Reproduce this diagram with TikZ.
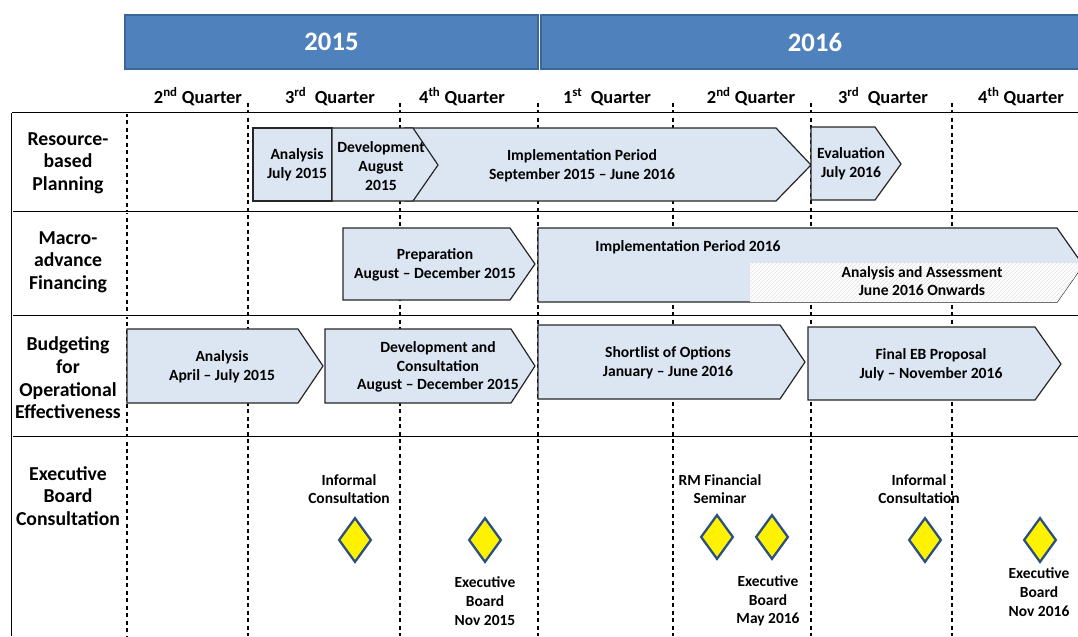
\documentclass[tikz,border=0pt]{standalone}
\usepackage{fontspec}
\setmainfont{Carlito}
\usetikzlibrary{shapes.geometric,patterns}
\definecolor{yearblue}{HTML}{4F81BD}
\definecolor{yearedge}{HTML}{3A679A}
\definecolor{shapefill}{HTML}{DCE6F2}
\definecolor{dmdedge}{HTML}{2B4F82}
\begin{document}
\begin{tikzpicture}[x=0.75pt,y=-0.75pt,
  yearbox/.style={draw=yearedge,line width=1.2pt,fill=yearblue,text=white,font=\fontsize{20}{24}\selectfont\bfseries},
  qlabel/.style={anchor=base,font=\fontsize{13.8}{16}\selectfont\bfseries},
  rowlabel/.style={align=center,font=\fontsize{14.8}{17}\selectfont\bfseries},
  chev/.style={draw=black!85,line width=0.9pt,fill=shapefill,line join=miter},
  stext/.style={align=center,font=\fontsize{11.7}{14}\selectfont\bfseries},
  dtext/.style={align=center,font=\fontsize{11.6}{14}\selectfont\bfseries},
  milestone/.style={diamond,draw=dmdedge,line width=1.7pt,fill=yellow,minimum width=24.5pt,minimum height=33.5pt,inner sep=0pt},
  grid/.style={draw=black,double=white,double distance=0.5pt,line width=0.65pt},
  qline/.style={draw=black,line width=0.8pt,dash pattern=on 3pt off 2.6pt}]
\useasboundingbox (0,0) rectangle (1078,636);
\clip (0,0) rectangle (1078,636);
% year bars
\node[yearbox,minimum width=309.75pt,minimum height=40.5pt] (y2015) at (331.5,42) {2015};
\node[yearbox,minimum width=411pt,minimum height=40.5pt] (y2016) at (815,42) {2016};
% quarter labels
\node[qlabel] (q1) at (198,103) {2\textsuperscript{nd} Quarter};
\node[qlabel] (q2) at (330,103) {3\textsuperscript{rd}\ \ Quarter};
\node[qlabel] (q3) at (462,103) {4\textsuperscript{th} Quarter};
\node[qlabel] (q4) at (607,103) {1\textsuperscript{st}\ \ Quarter};
\node[qlabel] (q5) at (751,103) {2\textsuperscript{nd} Quarter};
\node[qlabel] (q6) at (883,103) {3\textsuperscript{rd}\ \ Quarter};
\node[qlabel] (q7) at (1021,103) {4\textsuperscript{th} Quarter};
% dashed quarter lines
\draw[qline] (127,113) -- (127,636);
\foreach \x in {248,400,538,673,811,952}{\draw[qline] (\x,103) -- (\x,636);}
% grid lines
\draw[grid] (12,113) -- (1078,113);
\draw[grid] (12,212) -- (1078,212);
\draw[grid] (12,316) -- (1078,316);
\draw[grid] (12,437) -- (1078,437);
\draw[grid] (12,113) -- (12,636);
% row labels
\node[rowlabel] (r1) at (68,163) {Resource-\\based\\Planning};
\node[rowlabel] (r2) at (68,262) {Macro-\\advance\\Financing};
\node[rowlabel] (r3) at (68,378) {Budgeting\\for\\Operational\\Effectiveness};
\node[rowlabel] (r4) at (68,496) {Executive\\Board\\Consultation};
% row 1
\draw[chev] (405,128) -- (776,128) -- (811,165) -- (776,201) -- (405,201) -- cycle;
\draw[chev] (253,128) rectangle (332,201);
\draw[chev] (332,128) -- (413,128) -- (438,165) -- (413,201) -- (332,201) -- cycle;
\draw[chev] (811,127) -- (875,127) -- (901,164) -- (875,200) -- (811,200) -- cycle;
\node[stext] (a1) at (297,165) {Analysis\\July 2015};
\node[stext] (d1) at (381,166) {Development\\August\\2015};
\node[stext] (i1) at (582,166) {Implementation Period\\September 2015 -- June 2016};
\node[stext] (e1) at (851,164) {Evaluation\\July 2016};
% row 2
\draw[chev] (343,228) -- (510,228) -- (535,264) -- (510,300) -- (343,300) -- cycle;
\draw[chev] (538,228) -- (1057,228) -- (1083,265) -- (1057,302) -- (538,302) -- cycle;
\begin{scope}
\clip (538,228) -- (1057,228) -- (1083,265) -- (1057,302) -- (538,302) -- cycle;
\fill[white!96!shapefill] (750,263) rectangle (1090,301.5);
\fill[pattern=north east lines,pattern color=gray!22] (750,263) rectangle (1090,301.5);
\end{scope}
\node[stext] (p2) at (435,265) {Preparation\\August -- December 2015};
\node[stext] (i2) at (688,247) {Implementation Period 2016};
\node[stext] (aa2) at (922,281) {Analysis and Assessment\\June 2016 Onwards};
% row 3
\draw[chev] (127,329) -- (298,329) -- (323,366) -- (298,403) -- (127,403) -- cycle;
\draw[chev] (325,329) -- (511,329) -- (535,366) -- (511,403) -- (325,403) -- cycle;
\draw[chev] (538,325) -- (780,325) -- (805,362) -- (780,399) -- (538,399) -- cycle;
\draw[chev] (808,327) -- (1035,327) -- (1061,364) -- (1035,400) -- (808,400) -- cycle;
\node[stext] (a3) at (222,367) {Analysis\\April -- July 2015};
\node[stext] (d3) at (438,367) {Development and\\Consultation\\August -- December 2015};
\node[stext] (s3) at (668,363) {Shortlist of Options\\January -- June 2016};
\node[stext] (f3) at (931,365) {Final EB Proposal\\July -- November 2016};
% row 4 milestones
\node[milestone] (m1) at (355,540) {};
\node[milestone] (m2) at (485,540) {};
\node[milestone] (m3) at (717,537) {};
\node[milestone] (m4) at (772,537) {};
\node[milestone] (m5) at (925,540) {};
\node[milestone] (m6) at (1040,540) {};
\node[dtext] (t1) at (349,489) {Informal\\Consultation};
\node[dtext] (t2) at (485,601) {Executive\\Board\\Nov 2015};
\node[dtext] (t3) at (720,489) {RM Financial\\Seminar};
\node[dtext] (t4) at (768,601) {Executive\\Board\\May 2016};
\node[dtext] (t5) at (919,489) {Informal\\Consultation};
\node[dtext] (t6) at (1039,592) {Executive\\Board\\Nov 2016};
\end{tikzpicture}
\end{document}
